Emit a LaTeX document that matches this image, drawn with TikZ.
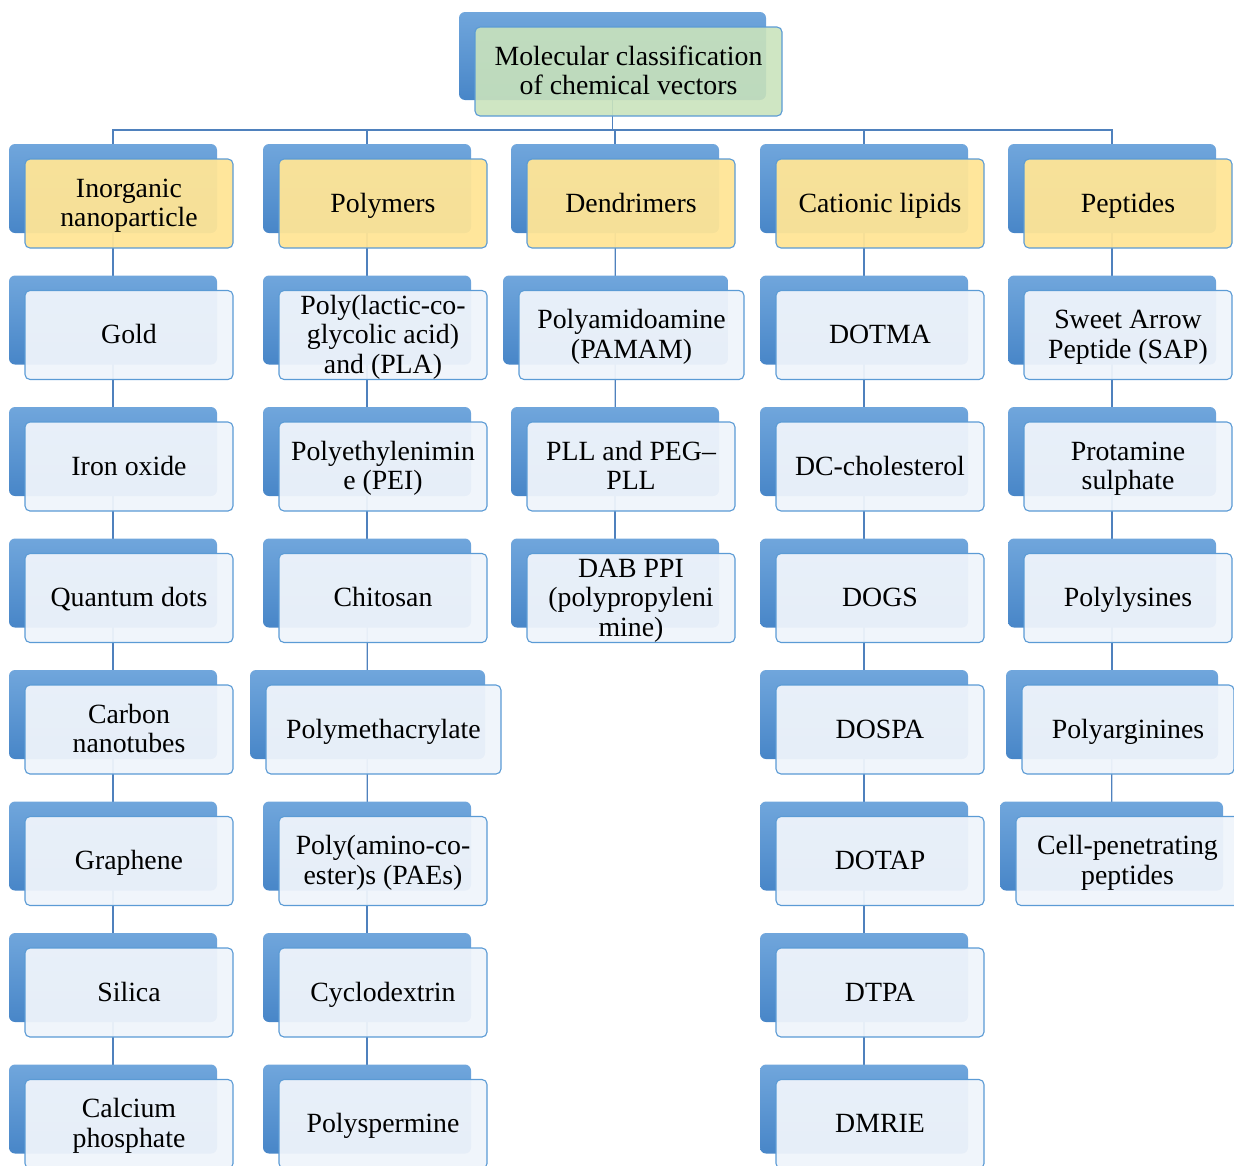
\documentclass[tikz,border=0pt]{standalone}
\usepackage{fontspec}
\setmainfont{Liberation Serif}
\usetikzlibrary{backgrounds,calc}
\definecolor{backtop}{RGB}{112,166,220}
\definecolor{backbot}{RGB}{72,134,200}
\definecolor{frontline}{RGB}{91,155,213}
\definecolor{conn}{RGB}{79,129,189}
\definecolor{hdrfill}{RGB}{255,229,150}
\definecolor{topfill}{RGB}{202,227,188}
\definecolor{itemfill}{RGB}{239,244,251}
\newcommand\mystrut{\rule[-6pt]{0pt}{29pt}}
\tikzset{
  backbox/.style={rectangle, rounded corners=6pt, minimum height=89pt, inner sep=0pt,
    top color=backtop, bottom color=backbot, draw=none},
  frontbox/.style={rectangle, rounded corners=5pt, minimum height=89pt, inner sep=0pt,
    draw=frontline, line width=1.1pt, fill opacity=0.95, text opacity=1, align=center,
    font=\fontsize{27.8}{29.5}\selectfont},
  connline/.style={draw=conn, line width=1.2pt}
}
\newcommand\mybox[6]{%
  \node[backbox, minimum width=#4] (#1-b) at (#2, #3+29.5) {};
  \node[frontbox, fill=#5, minimum width=#4] (#1) at (#2+16, #3+44.5) {\mystrut #6\mystrut};
}
\begin{document}
\begin{tikzpicture}[x=1pt,y=-1pt]
\useasboundingbox (0,0) rectangle (1234,1165);
\clip (0,0) rectangle (1234,1165);
% top
\node[backbox, minimum width=307pt, minimum height=88pt] (top-b) at (612.5,56) {};
\node[frontbox, fill=topfill, fill opacity=0.9, minimum width=307pt, minimum height=89pt] (top) at (628.5,71.5) {\mystrut Molecular classification\\of chemical vectors\mystrut};
\coordinate (bus) at (612.5,130);
% column 1
\mybox{a0}{113}{159}{208pt}{hdrfill}{Inorganic\\nanoparticle}
\mybox{a1}{113}{290.5}{208pt}{itemfill}{Gold}
\mybox{a2}{113}{422}{208pt}{itemfill}{Iron oxide}
\mybox{a3}{113}{553.5}{208pt}{itemfill}{Quantum dots}
\mybox{a4}{113}{685}{208pt}{itemfill}{Carbon\\nanotubes}
\mybox{a5}{113}{816.5}{208pt}{itemfill}{Graphene}
\mybox{a6}{113}{948}{208pt}{itemfill}{Silica}
\mybox{a7}{113}{1079.5}{208pt}{itemfill}{Calcium\\phosphate}
% column 2
\mybox{b0}{367}{159}{208pt}{hdrfill}{Polymers}
\mybox{b1}{367}{290.5}{208pt}{itemfill}{Poly(lactic-co-\\glycolic acid)\\and (PLA)}
\mybox{b2}{367}{422}{208pt}{itemfill}{Polyethylenimin\\e (PEI)}
\mybox{b3}{367}{553.5}{208pt}{itemfill}{Chitosan}
\mybox{b4}{367.5}{685}{235pt}{itemfill}{Polymethacrylate}
\mybox{b5}{367}{816.5}{208pt}{itemfill}{Poly(amino-co-\\ester)s (PAEs)}
\mybox{b6}{367}{948}{208pt}{itemfill}{Cyclodextrin}
\mybox{b7}{367}{1079.5}{208pt}{itemfill}{Polyspermine}
% column 3
\mybox{c0}{615}{159}{208pt}{hdrfill}{Dendrimers}
\mybox{c1}{615.5}{290.5}{225pt}{itemfill}{Polyamidoamine\\(PAMAM)}
\mybox{c2}{615}{422}{208pt}{itemfill}{PLL and PEG–\\PLL}
\mybox{c3}{615}{553.5}{208pt}{itemfill}{DAB PPI\\(polypropyleni\\mine)}
% column 4
\mybox{d0}{864}{159}{208pt}{hdrfill}{Cationic lipids}
\mybox{d1}{864}{290.5}{208pt}{itemfill}{DOTMA}
\mybox{d2}{864}{422}{208pt}{itemfill}{DC-cholesterol}
\mybox{d3}{864}{553.5}{208pt}{itemfill}{DOGS}
\mybox{d4}{864}{685}{208pt}{itemfill}{DOSPA}
\mybox{d5}{864}{816.5}{208pt}{itemfill}{DOTAP}
\mybox{d6}{864}{948}{208pt}{itemfill}{DTPA}
\mybox{d7}{864}{1079.5}{208pt}{itemfill}{DMRIE}
% column 5
\mybox{e0}{1112}{159}{208pt}{hdrfill}{Peptides}
\mybox{e1}{1112}{290.5}{208pt}{itemfill}{Sweet Arrow\\Peptide (SAP)}
\mybox{e2}{1112}{422}{208pt}{itemfill}{Protamine\\sulphate}
\mybox{e3}{1112}{553.5}{208pt}{itemfill}{Polylysines}
\mybox{e4}{1112}{685}{212pt}{itemfill}{Polyarginines}
\mybox{e5}{1111.5}{816.5}{223pt}{itemfill}{Cell-penetrating\\peptides}
\begin{pgfonlayer}{background}
\foreach \h in {a0,b0,c0,d0,e0}{
  \draw[connline] (top-b.center) -- (bus) -| (\h-b.center);
}
\foreach \p/\q in {a0/a1,a1/a2,a2/a3,a3/a4,a4/a5,a5/a6,a6/a7,
                   b0/b1,b1/b2,b2/b3,b3/b4,b4/b5,b5/b6,b6/b7,
                   c0/c1,c1/c2,c2/c3,
                   d0/d1,d1/d2,d2/d3,d3/d4,d4/d5,d5/d6,d6/d7,
                   e0/e1,e1/e2,e2/e3,e3/e4,e4/e5}{
  \draw[connline] (\p-b.center) -- (\q-b.center);
}
\end{pgfonlayer}
\end{tikzpicture}
\end{document}
